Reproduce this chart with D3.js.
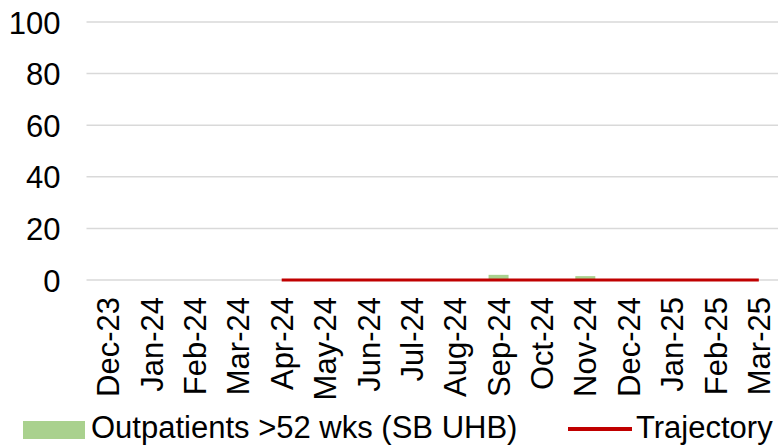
<!DOCTYPE html>
<html>
<head>
    <meta charset="utf-8">
    <script src="https://d3js.org/d3.v7.min.js"></script>
    <style>
        body { margin: 0; background: #fff; }
        text { font-family: "Liberation Sans", Arial, sans-serif; fill: #000; }
    </style>
</head>
<body>
    <script>
        // categories and series
        const months = ["Dec-23", "Jan-24", "Feb-24", "Mar-24", "Apr-24", "May-24", "Jun-24", "Jul-24",
            "Aug-24", "Sep-24", "Oct-24", "Nov-24", "Dec-24", "Jan-25", "Feb-25", "Mar-25"];
        const outpatients = [0, 0, 0, 0, 0, 0, 0, 0, 0, 2, 0, 1.5, 0, 0, 0, 0];
        const trajectory = [null, null, null, null, 0, 0, 0, 0, 0, 0, 0, 0, 0, 0, 0, 0];
        const yTicks = [0, 20, 40, 60, 80, 100];
        const legendNames = ["Outpatients >52 wks (SB UHB)", "Trajectory"];

        const width = 778;
        const height = 447;
        const fontSize = 31;

        const svg = d3.select("body")
            .append("svg")
            .attr("width", width)
            .attr("height", height);

        // scales
        const xScale = d3.scaleBand()
            .domain(months)
            .range([86.5, 780.5]);

        const yScale = d3.scaleLinear()
            .domain([0, 100])
            .range([280, 22]);

        // gridlines
        svg.append("g")
            .selectAll("line")
            .data(yTicks)
            .enter()
            .append("line")
            .attr("x1", 86.5)
            .attr("x2", 780.5)
            .attr("y1", (d) => yScale(d))
            .attr("y2", (d) => yScale(d))
            .attr("stroke", "#d9d9d9")
            .attr("stroke-width", 1.5);

        // y axis labels
        const yAxis = svg.append("g")
            .attr("transform", "translate(86.5,0)")
            .call(d3.axisLeft(yScale).tickValues(yTicks).tickSize(0).tickPadding(26));
        yAxis.select(".domain").remove();
        yAxis.selectAll("text")
            .style("font-size", fontSize + "px")
            .attr("dy", "0.36em");

        // x axis labels, rotated
        const xAxis = svg.append("g")
            .attr("transform", "translate(0,280)")
            .call(d3.axisBottom(xScale).tickSize(0));
        xAxis.select(".domain").remove();
        xAxis.selectAll("text")
            .style("font-size", fontSize + "px")
            .attr("transform", "rotate(-90)")
            .attr("text-anchor", "end")
            .attr("x", -17)
            .attr("y", 0)
            .attr("dy", "0.36em");

        // bars
        const barWidth = 20;
        svg.append("g")
            .selectAll("rect")
            .data(months.map((m, i) => ({ month: m, value: outpatients[i] })))
            .enter()
            .append("rect")
            .attr("x", (d) => xScale(d.month) + xScale.bandwidth() / 2 - barWidth / 2)
            .attr("y", (d) => yScale(d.value))
            .attr("width", barWidth)
            .attr("height", (d) => yScale(0) - yScale(d.value))
            .attr("fill", "#a9d18e");

        // trajectory line
        const line = d3.line()
            .defined((d) => d.value !== null)
            .x((d) => xScale(d.month) + xScale.bandwidth() / 2)
            .y((d) => yScale(d.value));

        svg.append("path")
            .datum(months.map((m, i) => ({ month: m, value: trajectory[i] })))
            .attr("d", line)
            .attr("fill", "none")
            .attr("stroke", "#c00000")
            .attr("stroke-width", 3);

        // legend
        svg.append("rect")
            .attr("x", 23)
            .attr("y", 421)
            .attr("width", 62)
            .attr("height", 18)
            .attr("fill", "#a9d18e");
        svg.append("text")
            .attr("x", 91)
            .attr("y", 438)
            .style("font-size", fontSize + "px")
            .text(legendNames[0]);

        svg.append("line")
            .attr("x1", 568)
            .attr("x2", 632)
            .attr("y1", 429)
            .attr("y2", 429)
            .attr("stroke", "#c00000")
            .attr("stroke-width", 4);
        svg.append("text")
            .attr("x", 636)
            .attr("y", 438)
            .style("font-size", fontSize + "px")
            .text(legendNames[1]);
    </script>
</body>
</html>
